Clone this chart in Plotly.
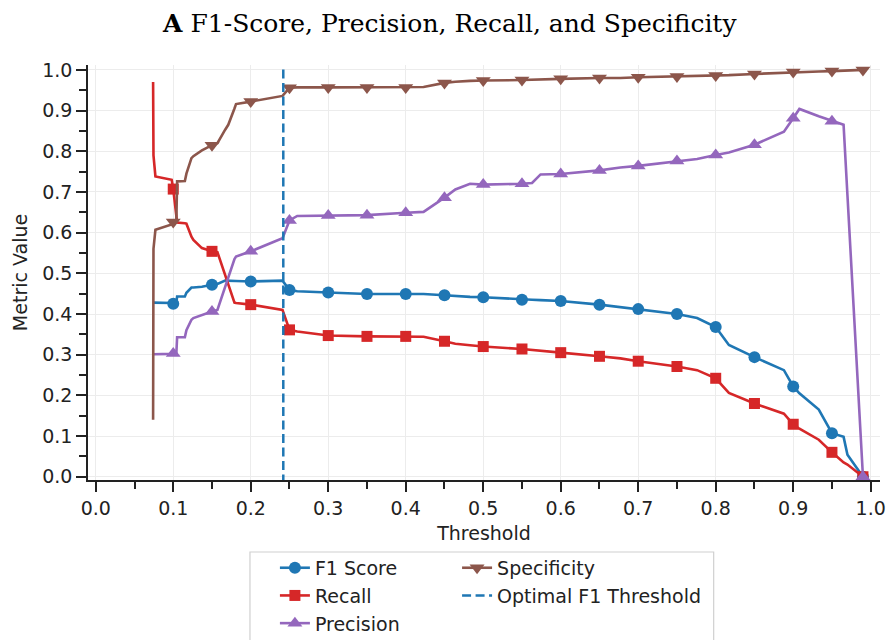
import plotly.graph_objects as go

# Threshold sweep (shared grid) and metric values at each threshold
thresholds = [
    0.074, 0.0745, 0.077, 0.098, 0.100, 0.104, 0.105, 0.115, 0.117, 0.1235,
    0.126, 0.137, 0.150, 0.157, 0.167, 0.171, 0.179, 0.181, 0.200, 0.241,
    0.250, 0.260, 0.300, 0.350, 0.400, 0.423, 0.450, 0.464, 0.483, 0.500,
    0.550, 0.563, 0.574, 0.600, 0.650, 0.677, 0.700, 0.750, 0.776, 0.800,
    0.817, 0.850, 0.888, 0.900, 0.908, 0.933, 0.950, 0.965, 0.970, 0.990,
]
f1_score = [
    0.428, 0.428, 0.428, 0.427, 0.425, 0.428, 0.443, 0.443, 0.452, 0.465,
    0.465, 0.467, 0.472, 0.474, 0.482, 0.482, 0.481, 0.481, 0.480, 0.482,
    0.459, 0.456, 0.453, 0.449, 0.449, 0.449, 0.446, 0.444, 0.442, 0.441,
    0.435, 0.435, 0.434, 0.432, 0.423, 0.417, 0.412, 0.400, 0.390, 0.368,
    0.324, 0.294, 0.262, 0.222, 0.205, 0.165, 0.107, 0.098, 0.054, 0.000,
]
recall = [
    0.970, 0.790, 0.738, 0.730, 0.707, 0.628, 0.625, 0.623, 0.622, 0.590,
    0.582, 0.562, 0.554, 0.552, 0.496, 0.471, 0.428, 0.427, 0.423, 0.410,
    0.361, 0.357, 0.347, 0.345, 0.345, 0.344, 0.333, 0.327, 0.323, 0.320,
    0.314, 0.312, 0.310, 0.305, 0.296, 0.291, 0.284, 0.271, 0.262, 0.242,
    0.206, 0.180, 0.155, 0.129, 0.118, 0.091, 0.060, 0.035, 0.030, 0.000,
]
precision = [
    0.301, 0.301, 0.301, 0.302, 0.303, 0.303, 0.343, 0.343, 0.360, 0.386,
    0.390, 0.398, 0.406, 0.410, 0.467, 0.490, 0.535, 0.541, 0.554, 0.586,
    0.630, 0.641, 0.642, 0.643, 0.649, 0.651, 0.686, 0.706, 0.720, 0.718,
    0.720, 0.722, 0.743, 0.744, 0.753, 0.760, 0.764, 0.776, 0.781, 0.791,
    0.797, 0.816, 0.848, 0.881, 0.904, 0.886, 0.874, 0.865, 0.692, 0.000,
]
specificity = [
    0.140, 0.560, 0.607, 0.620, 0.626, 0.628, 0.726, 0.727, 0.745, 0.783,
    0.788, 0.802, 0.815, 0.820, 0.853, 0.865, 0.905, 0.916, 0.922, 0.936,
    0.956, 0.957, 0.957, 0.957, 0.957, 0.958, 0.968, 0.971, 0.973, 0.974,
    0.975, 0.976, 0.977, 0.978, 0.980, 0.980, 0.982, 0.984, 0.985, 0.986,
    0.987, 0.990, 0.993, 0.995, 0.995, 0.996, 0.997, 0.998, 0.998, 1.000,
]
# thresholds that carry a marker
marker_thresholds = [0.10, 0.15, 0.20, 0.25, 0.30, 0.35, 0.40, 0.45, 0.50, 0.55,
                     0.60, 0.65, 0.70, 0.75, 0.80, 0.85, 0.90, 0.95, 0.99]
optimal_threshold = 0.242

series = [
    ("F1 Score", f1_score, "#1f77b4", "circle", 12),
    ("Recall", recall, "#d62728", "square", 11),
    ("Precision", precision, "#9467bd", "triangle-up", 13),
    ("Specificity", specificity, "#8c564b", "triangle-down", 13),
]
legend_of = {"F1 Score": "legend", "Recall": "legend", "Precision": "legend",
             "Specificity": "legend2"}

mark_idx = [i for i, t in enumerate(thresholds)
            if any(abs(t - m) < 1e-9 for m in marker_thresholds)]

fig = go.Figure()
LW = 2.6
for name, vals, color, symbol, msize in series:
    fig.add_trace(go.Scatter(
        x=thresholds, y=vals, mode="lines", line=dict(color=color, width=LW),
        showlegend=False, legendgroup=name, hoverinfo="skip"))
    fig.add_trace(go.Scatter(
        x=[thresholds[i] for i in mark_idx], y=[vals[i] for i in mark_idx],
        mode="markers", marker=dict(color=color, symbol=symbol, size=msize, line=dict(width=0)),
        showlegend=False, legendgroup=name, name=name))

# optimal F1 threshold line
fig.add_trace(go.Scatter(
    x=[optimal_threshold, optimal_threshold], y=[-0.05, 1.05], mode="lines",
    line=dict(color="#1f77b4", width=2.5, dash="9px,4.5px"),
    showlegend=False, legendgroup="opt", hoverinfo="skip"))

# legend entries
for name, vals, color, symbol, msize in series:
    fig.add_trace(go.Scatter(
        x=[None], y=[None], mode="lines+markers", name=name, legendgroup=name,
        line=dict(color=color, width=LW),
        marker=dict(color=color, symbol=symbol, size=msize, line=dict(width=0)),
        legend=legend_of[name]))
fig.add_trace(go.Scatter(
    x=[None], y=[None], mode="lines", name="Optimal F1 Threshold", legendgroup="opt",
    line=dict(color="#1f77b4", width=2.5, dash="9px,4.5px"), legend="legend2"))

axis_common = dict(
    showline=True, linecolor="#222222", linewidth=1.6, mirror=False,
    ticks="outside", ticklen=10, tickwidth=1.5, tickcolor="#222222",
    showgrid=True, gridcolor="#ececec", gridwidth=1, zeroline=False,
    tickfont=dict(family="DejaVu Sans", size=19, color="#222222"),
    dtick=0.1, tick0=0, tickformat=".1f",
    minor=dict(dtick=0.05, tick0=0, ticks="outside", ticklen=7, tickwidth=1.5,
               tickcolor="#222222", showgrid=False),
)

legend_common = dict(
    orientation="v", yanchor="top", xanchor="left",
    font=dict(family="DejaVu Sans", size=19, color="#222222"),
    bgcolor="rgba(0,0,0,0)", borderwidth=0, tracegroupgap=0,
)

fig.update_layout(
    width=889, height=640,
    margin=dict(l=88, r=9, t=65, b=160, autoexpand=False),
    paper_bgcolor="white", plot_bgcolor="white",
    title=dict(
        text="<b>A</b> F1-Score, Precision, Recall, and Specificity",
        font=dict(family="DejaVu Serif", size=25, color="black"),
        x=0.506, xref="container", xanchor="center",
        y=0.964, yref="container", yanchor="middle"),
    xaxis=dict(range=[-0.01, 1.012],
               title=dict(text="Threshold", standoff=9,
                          font=dict(family="DejaVu Sans", size=19, color="#222222")),
               **axis_common),
    yaxis=dict(range=[-0.008, 1.012],
               title=dict(text="Metric Value", standoff=10,
                          font=dict(family="DejaVu Sans", size=19, color="#222222")),
               **axis_common),
    legend=dict(x=0.236, y=-0.166, **legend_common),
    legend2=dict(x=0.466, y=-0.166, **legend_common),
    shapes=[dict(type="rect", xref="paper", yref="paper",
                 x0=0.2045, x1=0.790, y0=-0.1735, y1=-0.6,
                 line=dict(color="#d0d0d0", width=1.2), fillcolor="rgba(255,255,255,0.8)",
                 layer="below")],
    showlegend=True,
)

fig.write_html("out.html")
